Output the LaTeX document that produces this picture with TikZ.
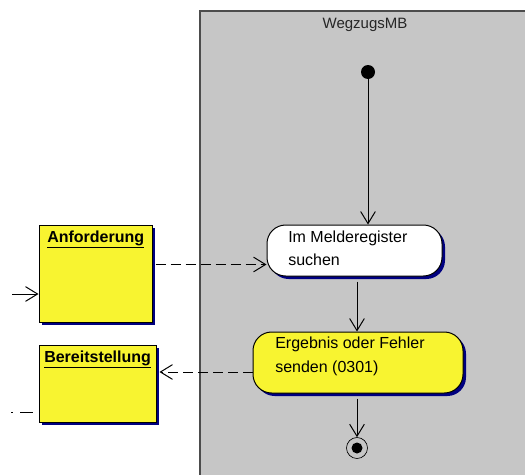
\documentclass[tikz,border=0pt]{standalone}
\usepackage{fontspec}
\setmainfont{Liberation Sans}
\usetikzlibrary{arrows.meta,shadows,calc}
\definecolor{lanegray}{RGB}{198,198,198}
\definecolor{umlyellow}{RGB}{248,244,48}
\definecolor{shadownavy}{RGB}{0,0,128}
\begin{document}
\begin{tikzpicture}[x=0.75pt,y=-0.75pt,
  every node/.style={font=\fontsize{12pt}{17.25pt}\selectfont},
  tipstyle/.style={-{Straight Barb[length=9pt,width=11pt]}},
  flow/.style={tipstyle, line width=0.75pt},
  dflow/.style={flow, dash pattern=on 7.5pt off 3.75pt},
  navyshadow/.style={drop shadow={shadow xshift=2.25pt, shadow yshift=-2.25pt, fill=shadownavy, opacity=1}},
  action/.style={draw=black, line width=0.75pt, rounded corners=14pt, navyshadow, inner sep=0pt},
  objbox/.style={draw=black, line width=0.75pt, fill=umlyellow, navyshadow, inner sep=0pt},
  dot/.style={circle, fill=black, inner sep=0pt},
  txt/.style={anchor=base west, inner sep=0pt},
]
\useasboundingbox (0,0) rectangle (525,475);
\fill[lanegray] (200,11) rectangle (530,480);
\draw[line width=1.1pt, draw=black!70] (530,11) -- (200,11) -- (200,480);
\node[anchor=base, inner sep=0pt, font=\fontsize{11.25pt}{13pt}\selectfont, text=black!85] (lane) at (365,28) {WegzugsMB};

% start and final
\node[dot, minimum size=10.5pt] (start) at (368,72) {};
\node[circle, draw=black, line width=0.5pt, minimum size=15.75pt, inner sep=0pt] (fin) at (357,448) {};
\node[dot, minimum size=8.25pt] (finin) at (fin) {};

% actions
\node[action, fill=white, minimum width=131.25pt, minimum height=38.25pt] (n1) at (354.5,250.5) {};
\node[txt] (n1a) at (288,242) {Im Melderegister};
\node[txt] (n1b) at (288,265) {suchen};
\node[action, fill=umlyellow, minimum width=157.5pt, minimum height=45.75pt] (n2) at (358,362.5) {};
\node[txt] (n2a) at (275,348) {Ergebnis oder Fehler};
\node[txt] (n2b) at (275,372) {senden (0301)};

% object boxes
\node[objbox, minimum width=84.75pt, minimum height=72.75pt] (anf) at (95.5,273.5) {};
\node[objbox, minimum width=87.75pt, minimum height=57.75pt] (bst) at (97.5,383.5) {};
\node[txt] (anft) at (47,242) {\bfseries\underline{Anforderung}};
\node[txt] (bstt) at (44,362) {\bfseries\underline{Bereitstellung}};

% control flows
\draw[flow] (start) -- (start |- n1.north);
\draw[flow] ($(n1.south -| fin)+(0,5)$) -- (n2.north -| fin);
\draw[flow] ($(n2.south -| fin)+(0,5)$) -- (fin.north);

% object flows
\coordinate (a1) at ($(anf.north east)+(3,40)$);
\draw[dflow] (a1) -- (a1 -| n1.west);
\coordinate (b1) at ($(n2.west)+(0,9.5)$);
\draw[dflow] (b1) -- ($(b1 -| bst.east)+(3,0)$);
\coordinate (inL) at (12,294);
\draw[flow] (inL) -- (inL -| anf.west);
\coordinate (outL) at (11,412);
\draw[line width=0.75pt, dash pattern=on 0pt off 4.5pt on 9.75pt off 5.25pt on 7.5pt] (outL -| bst.west) -- (outL);
\end{tikzpicture}
\end{document}
